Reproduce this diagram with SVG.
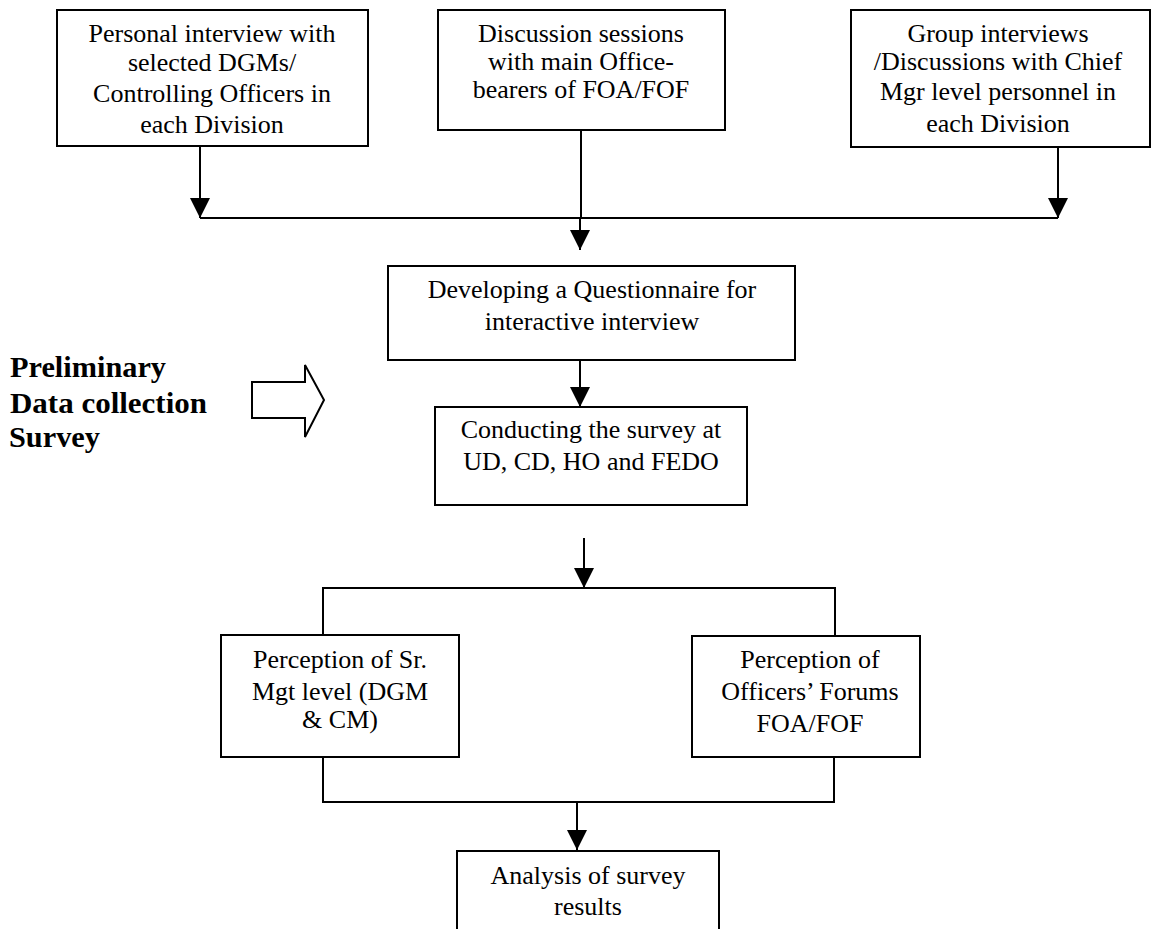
<svg xmlns="http://www.w3.org/2000/svg" width="1152" height="929" viewBox="0 0 1152 929">
  <style>
    .box { fill: #fff; stroke: #000; stroke-width: 2; }
    .lbl { font-family: "Liberation Serif", "Times New Roman", serif; font-size: 26px; fill: #000; text-anchor: middle; }
    .side { font-family: "Liberation Serif", "Times New Roman", serif; font-size: 29px; font-weight: bold; fill: #000; }
    .wire { fill: none; stroke: #000; stroke-width: 2; }
  </style>
  <defs>
    <marker id="head" viewBox="0 0 20 20" refX="20" refY="10" markerWidth="20" markerHeight="20" markerUnits="userSpaceOnUse" orient="auto">
      <path d="M0,0 L20,10 L0,20 Z" fill="#000"/>
    </marker>
  </defs>
  <rect width="1152" height="929" fill="#fff"/>

  <!-- connectors -->
  <g id="connectors">
    <line class="wire" x1="200" y1="146" x2="200" y2="218" marker-end="url(#head)"/>
    <line class="wire" x1="1058" y1="147" x2="1058" y2="218" marker-end="url(#head)"/>
    <line class="wire" x1="200" y1="218" x2="1058" y2="218"/>
    <line class="wire" x1="581" y1="130" x2="581" y2="218"/>
    <line class="wire" x1="580" y1="218" x2="580" y2="250" marker-end="url(#head)"/>
    <line class="wire" x1="580" y1="360" x2="580" y2="407" marker-end="url(#head)"/>
    <line class="wire" x1="584" y1="538" x2="584" y2="588" marker-end="url(#head)"/>
    <polyline class="wire" points="323,635 323,588 835,588 835,636"/>
    <polyline class="wire" points="323,757 323,802 834,802 834,757"/>
    <line class="wire" x1="577" y1="802" x2="577" y2="850" marker-end="url(#head)"/>
  </g>

  <!-- top row -->
  <g id="personal-interview">
    <rect class="box" x="57" y="10" width="311" height="136"/>
    <text class="lbl" x="212" y="42">Personal interview with</text>
    <text class="lbl" x="212" y="71">selected DGMs/</text>
    <text class="lbl" x="212" y="102">Controlling Officers in</text>
    <text class="lbl" x="212" y="133">each Division</text>
  </g>
  <g id="discussion-sessions">
    <rect class="box" x="438" y="10" width="287" height="120"/>
    <text class="lbl" x="581" y="42">Discussion sessions</text>
    <text class="lbl" x="581" y="70">with main Office-</text>
    <text class="lbl" x="581" y="98">bearers of FOA/FOF</text>
  </g>
  <g id="group-interviews">
    <rect class="box" x="851" y="10" width="299" height="137"/>
    <text class="lbl" x="998" y="42">Group interviews</text>
    <text class="lbl" x="998" y="70">/Discussions with Chief</text>
    <text class="lbl" x="998" y="100">Mgr level personnel in</text>
    <text class="lbl" x="998" y="132">each Division</text>
  </g>

  <!-- questionnaire and survey -->
  <g id="questionnaire">
    <rect class="box" x="388" y="266" width="407" height="94"/>
    <text class="lbl" x="592" y="298">Developing a Questionnaire for</text>
    <text class="lbl" x="592" y="330">interactive interview</text>
  </g>
  <g id="conducting-survey">
    <rect class="box" x="435" y="407" width="312" height="98"/>
    <text class="lbl" x="591" y="438">Conducting the survey at</text>
    <text class="lbl" x="591" y="470">UD, CD, HO and FEDO</text>
  </g>

  <!-- side caption with block arrow -->
  <g id="preliminary">
    <text class="side" x="10" y="377" textLength="156" lengthAdjust="spacingAndGlyphs">Preliminary</text>
    <text class="side" x="10" y="413" textLength="197" lengthAdjust="spacingAndGlyphs">Data collection</text>
    <text class="side" x="9" y="447" textLength="91" lengthAdjust="spacingAndGlyphs">Survey</text>
    <polygon points="252,382 305,382 305,365 324,400 305,437 305,418 252,418" fill="#fff" stroke="#000" stroke-width="2"/>
  </g>

  <!-- perceptions -->
  <g id="perception-mgt">
    <rect class="box" x="221" y="635" width="238" height="122"/>
    <text class="lbl" x="340" y="668">Perception of Sr.</text>
    <text class="lbl" x="340" y="700">Mgt level (DGM</text>
    <text class="lbl" x="340" y="728">&amp; CM)</text>
  </g>
  <g id="perception-forums">
    <rect class="box" x="692" y="636" width="228" height="121"/>
    <text class="lbl" x="810" y="668">Perception of</text>
    <text class="lbl" x="810" y="700">Officers’ Forums</text>
    <text class="lbl" x="810" y="732">FOA/FOF</text>
  </g>

  <!-- analysis -->
  <g id="analysis">
    <rect class="box" x="457" y="851" width="262" height="100"/>
    <text class="lbl" x="588" y="884">Analysis of survey</text>
    <text class="lbl" x="588" y="915">results</text>
  </g>
</svg>
